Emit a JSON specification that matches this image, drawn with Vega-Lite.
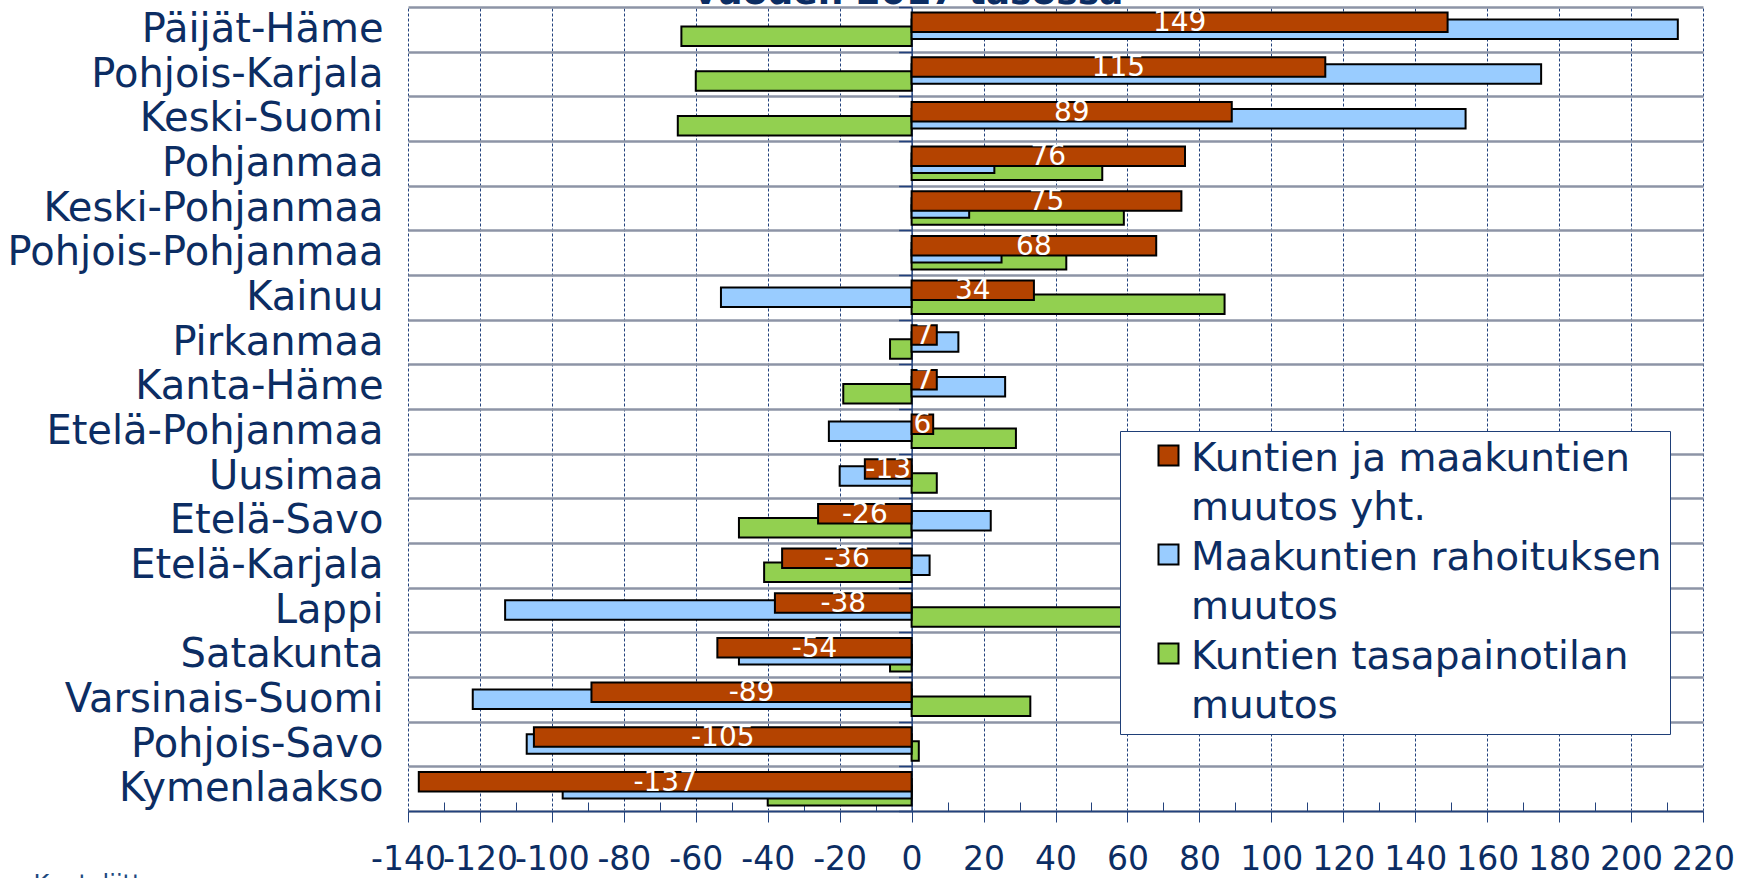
{
  "$schema": "https://vega.github.io/schema/vega-lite/v6.json",
  "width": 1295,
  "height": 804,
  "autosize": "none",
  "padding": {"left": 408, "top": 7, "right": 39, "bottom": 67},
  "background": "white",
  "config": {
    "font": "DejaVu Sans",
    "view": {"stroke": null}
  },
  "data": {
    "values": [
      {"region": "Päijät-Häme", "series": "Kuntien ja maakuntien muutos yht.", "value": 149},
      {"region": "Päijät-Häme", "series": "Maakuntien rahoituksen muutos", "value": 213},
      {"region": "Päijät-Häme", "series": "Kuntien tasapainotilan muutos", "value": -64},
      {"region": "Pohjois-Karjala", "series": "Kuntien ja maakuntien muutos yht.", "value": 115},
      {"region": "Pohjois-Karjala", "series": "Maakuntien rahoituksen muutos", "value": 175},
      {"region": "Pohjois-Karjala", "series": "Kuntien tasapainotilan muutos", "value": -60},
      {"region": "Keski-Suomi", "series": "Kuntien ja maakuntien muutos yht.", "value": 89},
      {"region": "Keski-Suomi", "series": "Maakuntien rahoituksen muutos", "value": 154},
      {"region": "Keski-Suomi", "series": "Kuntien tasapainotilan muutos", "value": -65},
      {"region": "Pohjanmaa", "series": "Kuntien ja maakuntien muutos yht.", "value": 76},
      {"region": "Pohjanmaa", "series": "Maakuntien rahoituksen muutos", "value": 23},
      {"region": "Pohjanmaa", "series": "Kuntien tasapainotilan muutos", "value": 53},
      {"region": "Keski-Pohjanmaa", "series": "Kuntien ja maakuntien muutos yht.", "value": 75},
      {"region": "Keski-Pohjanmaa", "series": "Maakuntien rahoituksen muutos", "value": 16},
      {"region": "Keski-Pohjanmaa", "series": "Kuntien tasapainotilan muutos", "value": 59},
      {"region": "Pohjois-Pohjanmaa", "series": "Kuntien ja maakuntien muutos yht.", "value": 68},
      {"region": "Pohjois-Pohjanmaa", "series": "Maakuntien rahoituksen muutos", "value": 25},
      {"region": "Pohjois-Pohjanmaa", "series": "Kuntien tasapainotilan muutos", "value": 43},
      {"region": "Kainuu", "series": "Kuntien ja maakuntien muutos yht.", "value": 34},
      {"region": "Kainuu", "series": "Maakuntien rahoituksen muutos", "value": -53},
      {"region": "Kainuu", "series": "Kuntien tasapainotilan muutos", "value": 87},
      {"region": "Pirkanmaa", "series": "Kuntien ja maakuntien muutos yht.", "value": 7},
      {"region": "Pirkanmaa", "series": "Maakuntien rahoituksen muutos", "value": 13},
      {"region": "Pirkanmaa", "series": "Kuntien tasapainotilan muutos", "value": -6},
      {"region": "Kanta-Häme", "series": "Kuntien ja maakuntien muutos yht.", "value": 7},
      {"region": "Kanta-Häme", "series": "Maakuntien rahoituksen muutos", "value": 26},
      {"region": "Kanta-Häme", "series": "Kuntien tasapainotilan muutos", "value": -19},
      {"region": "Etelä-Pohjanmaa", "series": "Kuntien ja maakuntien muutos yht.", "value": 6},
      {"region": "Etelä-Pohjanmaa", "series": "Maakuntien rahoituksen muutos", "value": -23},
      {"region": "Etelä-Pohjanmaa", "series": "Kuntien tasapainotilan muutos", "value": 29},
      {"region": "Uusimaa", "series": "Kuntien ja maakuntien muutos yht.", "value": -13},
      {"region": "Uusimaa", "series": "Maakuntien rahoituksen muutos", "value": -20},
      {"region": "Uusimaa", "series": "Kuntien tasapainotilan muutos", "value": 7},
      {"region": "Etelä-Savo", "series": "Kuntien ja maakuntien muutos yht.", "value": -26},
      {"region": "Etelä-Savo", "series": "Maakuntien rahoituksen muutos", "value": 22},
      {"region": "Etelä-Savo", "series": "Kuntien tasapainotilan muutos", "value": -48},
      {"region": "Etelä-Karjala", "series": "Kuntien ja maakuntien muutos yht.", "value": -36},
      {"region": "Etelä-Karjala", "series": "Maakuntien rahoituksen muutos", "value": 5},
      {"region": "Etelä-Karjala", "series": "Kuntien tasapainotilan muutos", "value": -41},
      {"region": "Lappi", "series": "Kuntien ja maakuntien muutos yht.", "value": -38},
      {"region": "Lappi", "series": "Maakuntien rahoituksen muutos", "value": -113},
      {"region": "Lappi", "series": "Kuntien tasapainotilan muutos", "value": 75},
      {"region": "Satakunta", "series": "Kuntien ja maakuntien muutos yht.", "value": -54},
      {"region": "Satakunta", "series": "Maakuntien rahoituksen muutos", "value": -48},
      {"region": "Satakunta", "series": "Kuntien tasapainotilan muutos", "value": -6},
      {"region": "Varsinais-Suomi", "series": "Kuntien ja maakuntien muutos yht.", "value": -89},
      {"region": "Varsinais-Suomi", "series": "Maakuntien rahoituksen muutos", "value": -122},
      {"region": "Varsinais-Suomi", "series": "Kuntien tasapainotilan muutos", "value": 33},
      {"region": "Pohjois-Savo", "series": "Kuntien ja maakuntien muutos yht.", "value": -105},
      {"region": "Pohjois-Savo", "series": "Maakuntien rahoituksen muutos", "value": -107},
      {"region": "Pohjois-Savo", "series": "Kuntien tasapainotilan muutos", "value": 2},
      {"region": "Kymenlaakso", "series": "Kuntien ja maakuntien muutos yht.", "value": -137},
      {"region": "Kymenlaakso", "series": "Maakuntien rahoituksen muutos", "value": -97},
      {"region": "Kymenlaakso", "series": "Kuntien tasapainotilan muutos", "value": -40}
    ]
  },
  "layer": [
    {
      "transform": [{"filter": "datum.series == 'Kuntien tasapainotilan muutos'"}],
      "mark": {"type": "bar", "height": 19.5, "yOffset": 7, "stroke": "black", "strokeWidth": 2},
      "encoding": {
        "y": {
          "field": "region", "type": "nominal",
          "sort": ["Päijät-Häme", "Pohjois-Karjala", "Keski-Suomi", "Pohjanmaa", "Keski-Pohjanmaa", "Pohjois-Pohjanmaa", "Kainuu", "Pirkanmaa", "Kanta-Häme", "Etelä-Pohjanmaa", "Uusimaa", "Etelä-Savo", "Etelä-Karjala", "Lappi", "Satakunta", "Varsinais-Suomi", "Pohjois-Savo", "Kymenlaakso"],
          "scale": {"paddingInner": 0, "paddingOuter": 0},
          "axis": {
            "orient": "left", "title": null, "domain": false, "ticks": false, "tickSize": 0,
            "tickBand": "extent", "grid": true, "gridColor": "#8d94a6", "gridWidth": 2.5,
            "labelFontSize": 40, "labelColor": "#0c2d63", "labelPadding": 25, "labelLimit": 420
          }
        },
        "x": {
          "field": "value", "type": "quantitative",
          "scale": {"domain": [-140, 220], "nice": false, "zero": false},
          "axis": {
            "orient": "bottom",
            "values": [-140, -120, -100, -80, -60, -40, -20, 0, 20, 40, 60, 80, 100, 120, 140, 160, 180, 200, 220],
            "grid": true, "gridDash": [3, 2], "gridColor": "#23427d", "gridWidth": 1,
            "domainColor": "#23427d", "domainWidth": 1.5,
            "tickColor": "#23427d", "tickSize": 11, "tickWidth": 1,
            "labelFontSize": 33, "labelColor": "#0c2d63", "labelPadding": 21,
            "labelOverlap": false, "labelBound": false, "labelFlush": false,
            "labelExpr": "'' + datum.value",
            "title": "Kuntaliitto", "titleX": -375, "titleY": 61, "titleAlign": "left", "titleAnchor": "start",
            "titleBaseline": "top", "titleFontSize": 24, "titleFontWeight": "normal", "titleColor": "#20497f"
          }
        },
        "color": {
          "field": "series", "type": "nominal",
          "scale": {
            "domain": ["Kuntien ja maakuntien muutos yht.", "Maakuntien rahoituksen muutos", "Kuntien tasapainotilan muutos"],
            "range": ["#B44300", "#99CCFF", "#92D050"]
          },
          "legend": {
            "orient": "none", "legendX": 712, "legendY": 424, "title": null,
            "fillColor": "white", "strokeColor": "#1f3f78", "padding": 8,
            "symbolOffset": 21, "labelOffset": 3, "symbolSize": 400,
            "symbolType": "M-1,-1.3H1V0.7H-1Z",
            "symbolStrokeColor": "black", "symbolStrokeWidth": 2,
            "labelFontSize": 39, "labelColor": "#0c2d63", "labelLimit": 700, "rowPadding": 10,
            "labelExpr": "datum.label == 'Kuntien ja maakuntien muutos yht.' ? ['Kuntien ja maakuntien', 'muutos yht.'] : datum.label == 'Maakuntien rahoituksen muutos' ? ['Maakuntien rahoituksen', 'muutos'] : ['Kuntien tasapainotilan', 'muutos']",
            "encode": {"labels": {"update": {"lineHeight": {"value": 49}}}}
          }
        }
      }
    },
    {
      "transform": [{"filter": "datum.series == 'Maakuntien rahoituksen muutos'"}],
      "mark": {"type": "bar", "height": 19.5, "yOffset": 0, "stroke": "black", "strokeWidth": 2},
      "encoding": {
        "y": {
          "field": "region", "type": "nominal",
          "sort": ["Päijät-Häme", "Pohjois-Karjala", "Keski-Suomi", "Pohjanmaa", "Keski-Pohjanmaa", "Pohjois-Pohjanmaa", "Kainuu", "Pirkanmaa", "Kanta-Häme", "Etelä-Pohjanmaa", "Uusimaa", "Etelä-Savo", "Etelä-Karjala", "Lappi", "Satakunta", "Varsinais-Suomi", "Pohjois-Savo", "Kymenlaakso"],
          "scale": {"paddingInner": 0, "paddingOuter": 0},
          "axis": {
            "orient": "left", "title": null, "offset": -503.6, "labels": false, "grid": false,
            "domain": true, "domainColor": "#23427d", "domainWidth": 1.5,
            "ticks": true, "tickBand": "extent", "tickSize": 13, "tickColor": "#23427d", "tickWidth": 1.5
          }
        },
        "x": {
          "field": "value", "type": "quantitative",
          "scale": {"domain": [-140, 220], "nice": false, "zero": false},
          "axis": {
            "orient": "bottom",
            "values": [-130, -110, -90, -70, -50, -30, -10, 10, 30, 50, 70, 90, 110, 130, 150, 170, 190, 210],
            "grid": false, "labels": false, "domain": false, "title": null,
            "ticks": true, "tickSize": -9, "tickColor": "#23427d", "tickWidth": 1
          }
        },
        "color": {
          "field": "series", "type": "nominal",
          "scale": {
            "domain": ["Kuntien ja maakuntien muutos yht.", "Maakuntien rahoituksen muutos", "Kuntien tasapainotilan muutos"],
            "range": ["#B44300", "#99CCFF", "#92D050"]
          }
        }
      }
    },
    {
      "transform": [{"filter": "datum.series == 'Kuntien ja maakuntien muutos yht.'"}],
      "mark": {"type": "bar", "height": 19.5, "yOffset": -7, "stroke": "black", "strokeWidth": 2},
      "encoding": {
        "y": {
          "field": "region", "type": "nominal",
          "sort": ["Päijät-Häme", "Pohjois-Karjala", "Keski-Suomi", "Pohjanmaa", "Keski-Pohjanmaa", "Pohjois-Pohjanmaa", "Kainuu", "Pirkanmaa", "Kanta-Häme", "Etelä-Pohjanmaa", "Uusimaa", "Etelä-Savo", "Etelä-Karjala", "Lappi", "Satakunta", "Varsinais-Suomi", "Pohjois-Savo", "Kymenlaakso"],
          "scale": {"paddingInner": 0, "paddingOuter": 0},
          "axis": null
        },
        "x": {
          "field": "value", "type": "quantitative",
          "scale": {"domain": [-140, 220], "nice": false, "zero": false},
          "axis": {
            "orient": "top", "grid": false, "labels": false, "domain": false, "ticks": false,
            "title": "vuoden 2017 tasossa", "titleX": 500, "titleY": -4, "titleAlign": "center",
            "titleAnchor": "middle", "titleBaseline": "alphabetic", "titleFontSize": 36,
            "titleFontWeight": "bold", "titleColor": "#0c2d63"
          }
        },
        "color": {
          "field": "series", "type": "nominal",
          "scale": {
            "domain": ["Kuntien ja maakuntien muutos yht.", "Maakuntien rahoituksen muutos", "Kuntien tasapainotilan muutos"],
            "range": ["#B44300", "#99CCFF", "#92D050"]
          }
        }
      }
    },
    {
      "transform": [
        {"filter": "datum.series == 'Kuntien ja maakuntien muutos yht.'"},
        {"calculate": "datum.value / 2", "as": "labelPos"}
      ],
      "mark": {"type": "text", "color": "white", "fontSize": 28, "baseline": "middle", "align": "center", "yOffset": -6},
      "encoding": {
        "y": {
          "field": "region", "type": "nominal",
          "sort": ["Päijät-Häme", "Pohjois-Karjala", "Keski-Suomi", "Pohjanmaa", "Keski-Pohjanmaa", "Pohjois-Pohjanmaa", "Kainuu", "Pirkanmaa", "Kanta-Häme", "Etelä-Pohjanmaa", "Uusimaa", "Etelä-Savo", "Etelä-Karjala", "Lappi", "Satakunta", "Varsinais-Suomi", "Pohjois-Savo", "Kymenlaakso"],
          "scale": {"paddingInner": 0, "paddingOuter": 0},
          "axis": null
        },
        "x": {
          "field": "labelPos", "type": "quantitative",
          "scale": {"domain": [-140, 220], "nice": false, "zero": false},
          "axis": null
        },
        "text": {"field": "value", "type": "nominal"}
      }
    }
  ],
  "resolve": {"axis": {"x": "independent", "y": "independent"}}
}
